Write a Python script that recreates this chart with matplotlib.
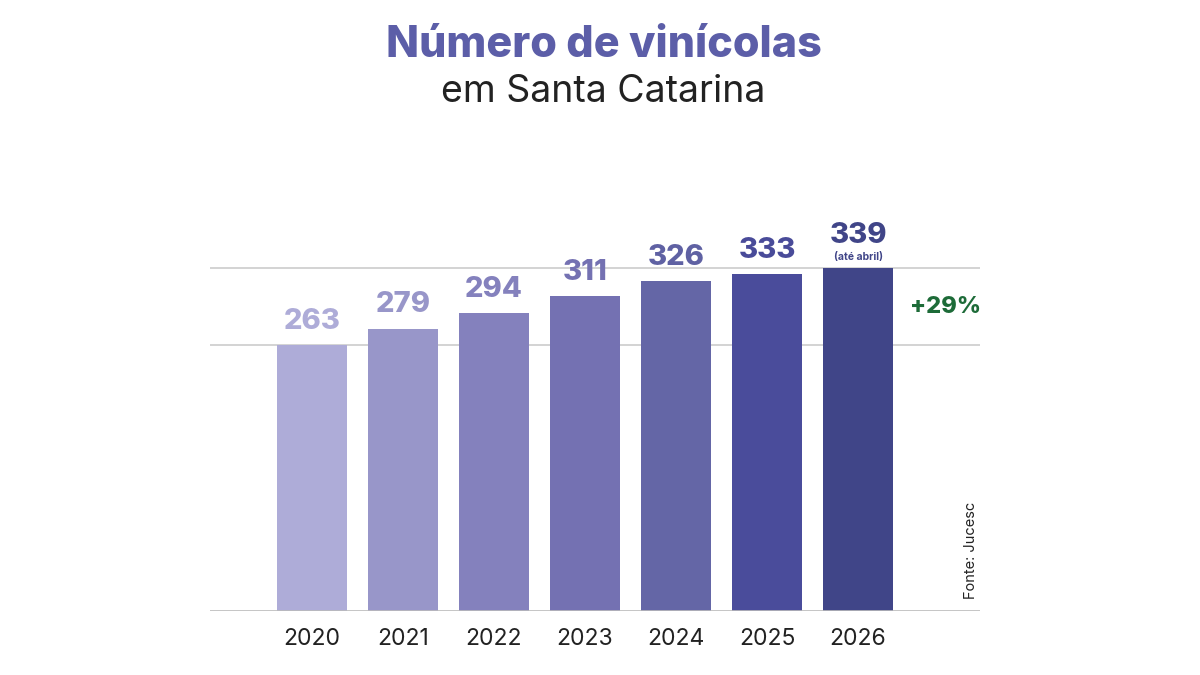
import matplotlib.pyplot as plt

plt.rcParams['font.family'] = ['Inter', 'DejaVu Sans']

years = ['2020', '2021', '2022', '2023', '2024', '2025', '2026']
vinicolas = [263, 279, 294, 311, 326, 333, 339]
bar_colors = ['#aeacd8', '#9896c9', '#8481bd', '#7471b2', '#6466a6', '#4a4c9b', '#404588']
label_colors = ['#aeacd8', '#9896c9', '#8481bd', '#7471b2', '#5f61a3', '#494b99', '#404588']

fig = plt.figure(figsize=(12, 6.75), dpi=100)
ax = fig.add_axes([0.175, 0.0948, 0.6417, 0.6])

x = list(range(len(years)))
ax.bar(x, vinicolas, width=0.76, color=bar_colors, zorder=2)

# linhas de referencia no primeiro e ultimo valor
for v in (vinicolas[0], vinicolas[-1]):
    ax.axhline(v, color='#cccccc', lw=1.2, zorder=1)
ax.axhline(0, color='#bbbbbb', lw=1.2, zorder=3)

for i, v in enumerate(vinicolas[:-1]):
    ax.text(i, v + 10, str(v), ha='center', va='bottom', fontsize=21,
            fontweight='heavy', color=label_colors[i])
# ultimo ano com nota
ax.text(x[-1], vinicolas[-1] + 19, str(vinicolas[-1]), ha='center', va='bottom',
        fontsize=21, fontweight='heavy', color=label_colors[-1])
ax.text(x[-1], vinicolas[-1] + 6, '(até abril)', ha='center', va='bottom',
        fontsize=7.5, fontweight='bold', color=label_colors[-1])

ax.set_xlim(-1.12, 7.34)
ax.set_ylim(0, 400)
ax.set_xticks(x)
ax.set_xticklabels(years, fontsize=16.5, color='#222222')
ax.tick_params(axis='x', length=0, pad=12)
ax.set_yticks([])
for s in ax.spines.values():
    s.set_visible(False)

fig.text(0.788, 0.545, '+29%', ha='center', va='center', fontsize=17,
         fontweight='heavy', color='#1d6b38')
fig.text(0.809, 0.185, 'Fonte: Jucesc', rotation=90, ha='center', va='center',
         fontsize=10.5, color='#222222')

fig.text(0.503, 0.932, 'Número de vinícolas', ha='center', va='center',
         fontsize=31, fontweight='heavy', color='#5c5ea8')
fig.text(0.503, 0.864, 'em Santa Catarina', ha='center', va='center',
         fontsize=27, color='#222222')

fig.savefig('out.png', dpi=100)
